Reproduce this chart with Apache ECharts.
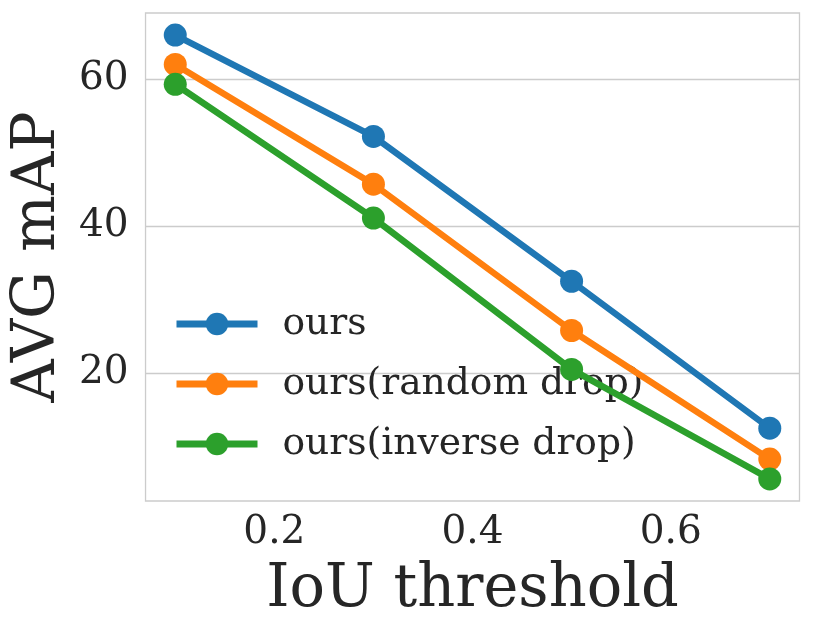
<!DOCTYPE html>
<html>
<head>
<meta charset="utf-8">
<script src="https://cdn.jsdelivr.net/npm/echarts@6/dist/echarts.min.js"></script>
<style>
html,body{margin:0;padding:0;background:#fff;}
#chart{width:813px;height:634px;}
</style>
</head>
<body>
<div id="chart"></div>
<script>
const xValues = [0.1, 0.3, 0.5, 0.7];
const oursValues = [66.0, 52.2, 32.5, 12.5];
const randomDropValues = [62.0, 45.7, 25.8, 8.3];
const inverseDropValues = [59.3, 41.1, 20.5, 5.6];
const seriesNames = ['ours', 'ours(random drop)', 'ours(inverse drop)'];
const xTicks = [0.2, 0.4, 0.6];
const yTicks = [20, 40, 60];

const FONT = 'DejaVu Serif';
const TEXT = '#262626';
const colors = ['#1f77b4', '#ff7f0e', '#2ca02c'];
const allValues = [oursValues, randomDropValues, inverseDropValues];

const chart = echarts.init(document.getElementById('chart'), null, {renderer: 'canvas'});

const series = allValues.map((vals, i) => ({
  name: seriesNames[i],
  type: 'line',
  data: vals.map((v, j) => [xValues[j], v]),
  symbol: 'circle',
  symbolSize: 23,
  showSymbol: true,
  lineStyle: {width: 6.5, color: colors[i]},
  itemStyle: {color: colors[i]},
  z: 3 + i,
  emphasis: {disabled: true},
  animation: false
}));

chart.setOption({
  animation: false,
  color: colors,
  grid: {
    left: 143.5, right: 13.5, top: 13, bottom: 133,
    show: true, borderColor: '#cccccc', borderWidth: 1.3, backgroundColor: '#fff'
  },
  xAxis: {
    type: 'value',
    min: 0.07, max: 0.73,
    name: 'IoU threshold',
    nameLocation: 'middle',
    nameGap: 60,
    nameTextStyle: {fontFamily: FONT, fontSize: 59, color: TEXT},
    axisLine: {show: false},
    axisTick: {show: false, customValues: xTicks},
    splitLine: {show: false},
    axisLabel: {
      customValues: xTicks,
      fontFamily: FONT, fontSize: 39, color: TEXT, margin: 12,
      formatter: v => v.toFixed(1)
    }
  },
  yAxis: {
    type: 'value',
    min: 2.6, max: 69.0,
    name: 'AVG mAP',
    nameLocation: 'middle',
    nameGap: 71,
    nameTextStyle: {fontFamily: FONT, fontSize: 60, color: TEXT},
    axisLine: {show: false},
    axisTick: {show: false, customValues: yTicks},
    splitLine: {show: true, lineStyle: {color: '#cccccc', width: 1.3}},
    axisLabel: {
      customValues: yTicks,
      fontFamily: FONT, fontSize: 39, color: TEXT, margin: 17,
      formatter: v => String(v)
    }
  },
  legend: {
    orient: 'vertical',
    left: 168, top: 300,
    itemWidth: 81, itemHeight: 28,
    itemGap: 22,
    data: seriesNames,
    lineStyle: {width: 7},
    textStyle: {fontFamily: FONT, fontSize: 37.6, color: TEXT, padding: [0, 0, 0, 20]},
    selectedMode: false
  },
  series: series
});
</script>
</body>
</html>
